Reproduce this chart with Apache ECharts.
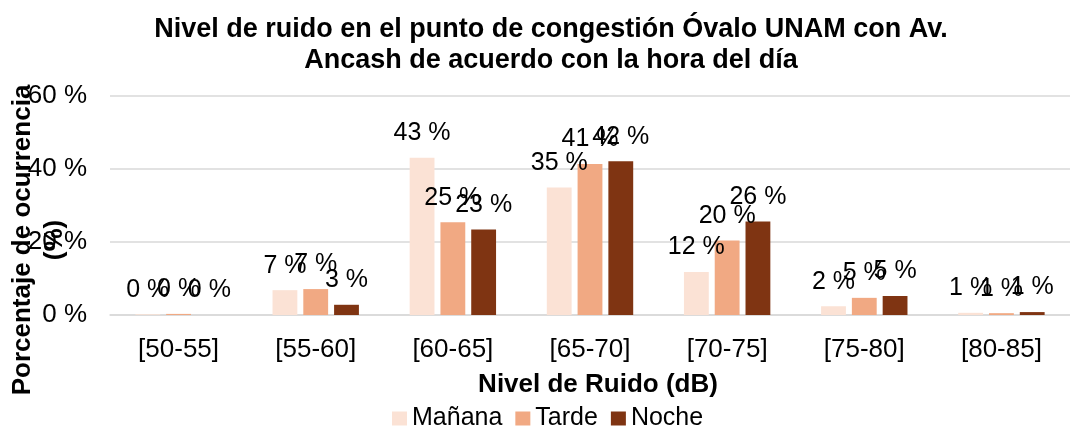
<!DOCTYPE html>
<html>
<head>
<meta charset="utf-8">
<script src="https://cdn.jsdelivr.net/npm/echarts@6/dist/echarts.min.js"></script>
<style>
  html, body { margin: 0; padding: 0; background: #fff; }
  #main { width: 1070px; height: 427px; }
</style>
</head>
<body>
<div id="main"></div>
<script>
// categorias y valores (%)
var categorias = ['[50-55]', '[55-60]', '[60-65]', '[65-70]', '[70-75]', '[75-80]', '[80-85]'];
var manana = [0.2, 6.8, 43.1, 34.9, 11.8, 2.4, 0.6];
var tarde = [0.3, 7.1, 25.4, 41.4, 20.4, 4.7, 0.5];
var noche = [0.0, 2.8, 23.4, 42.1, 25.6, 5.2, 0.8];
var ticksY = [0, 20, 40, 60];

var fuente = '"Liberation Sans", Arial, sans-serif';

var myChart = echarts.init(document.getElementById('main'));

function serie(nombre, datos, color) {
    return {
        name: nombre,
        type: 'bar',
        data: datos,
        barGap: '24%',
        barCategoryGap: '37%',
        itemStyle: { color: color },
        label: {
            show: true,
            position: 'top',
            distance: 12,
            color: '#000',
            fontSize: 25,
            fontFamily: fuente,
            formatter: function (p) { return Math.round(p.value) + ' %'; }
        }
    };
}

var option = {
    animation: false,
    backgroundColor: '#fff',
    textStyle: { fontFamily: fuente },
    title: {
        text: 'Nivel de ruido en el punto de congestión Óvalo UNAM con Av.\nAncash de acuerdo con la hora del día',
        left: 546,
        textAlign: 'center',
        top: 9,
        textStyle: { fontSize: 27, fontWeight: 'bold', color: '#000', lineHeight: 31, fontFamily: fuente }
    },
    legend: {
        data: ['Mañana', 'Tarde', 'Noche'],
        left: 387,
        top: 401,
        icon: 'rect',
        itemWidth: 15,
        itemHeight: 14,
        itemGap: 13,
        textStyle: { fontSize: 25, color: '#000', fontFamily: fuente }
    },
    grid: { left: 110, right: 0, top: 96, bottom: 112, outerBoundsMode: 'none' },
    xAxis: {
        type: 'category',
        data: categorias,
        name: 'Nivel de Ruido (dB)',
        nameLocation: 'middle',
        nameGap: 57,
        nameTextStyle: { fontSize: 26, fontWeight: 'bold', color: '#000', fontFamily: fuente, padding: [0, 0, 0, 16] },
        axisLine: { lineStyle: { color: '#d9d9d9', width: 1.5 } },
        axisTick: { show: false },
        axisLabel: { fontSize: 26, color: '#000', margin: 22, fontFamily: fuente }
    },
    yAxis: {
        type: 'value',
        min: ticksY[0],
        max: ticksY[ticksY.length - 1],
        interval: 20,
        axisLine: { show: false },
        axisTick: { show: false },
        splitLine: { lineStyle: { color: '#d9d9d9', width: 1.5 } },
        axisLabel: { fontSize: 26, color: '#000', margin: 23, formatter: '{value} %', fontFamily: fuente }
    },
    graphic: [{
        type: 'text',
        x: 39,
        y: 240,
        rotation: Math.PI / 2,
        style: {
            text: 'Porcentaje de ocurrencia\n(%)',
            align: 'center',
            verticalAlign: 'middle',
            font: 'bold 26px ' + fuente,
            lineHeight: 32,
            fill: '#000'
        }
    }],
    series: [
        serie('Mañana', manana, '#fbe2d5'),
        serie('Tarde', tarde, '#f1a983'),
        serie('Noche', noche, '#7f3412')
    ]
};

myChart.setOption(option);
</script>
</body>
</html>
